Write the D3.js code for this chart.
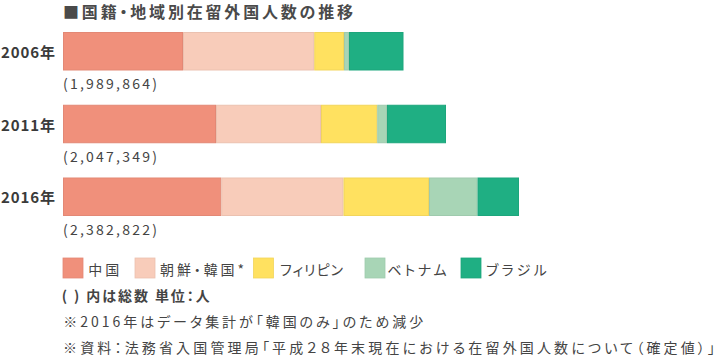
<!DOCTYPE html>
<html><head><meta charset="utf-8">
<script src="https://cdn.jsdelivr.net/npm/d3@7"></script>
<style>
html,body{margin:0;padding:0;background:#fff;}
svg{display:block;font-family:"Noto Sans CJK JP","Noto Sans",sans-serif;font-feature-settings:"palt" 1;}
</style></head>
<body><svg id="c" width="720" height="359"></svg>
<script>
const years = ["2006年", "2011年", "2016年"];
const totals = ["(1,989,864)", "(2,047,349)", "(2,382,822)"];
const series = ["中国", "朝鮮・韓国*", "フィリピン", "ベトナム", "ブラジル"];
const china     = [480000, 612000, 633000];
const korea     = [525000, 420000, 489000];
const philippines = [119000, 225000, 342000];
const vietnam   = [20000, 39000, 194000];
const brazil    = [218000, 236000, 166000];
const colors = ["#F0907B", "#F8CCBA", "#FFE160", "#A8D5B6", "#1FAF83"];
const title = "■国籍・地域別在留外国人数の推移";
const notes = ["( ) 内は総数 単位：人", "※2016年はデータ集計が「韓国のみ」のため減少", "※資料：法務省入国管理局「平成２８年末現在における在留外国人数について（確定値）」"];

const rows = years.map((y, i) => ({year: y, "中国": china[i], "朝鮮・韓国*": korea[i], "フィリピン": philippines[i], "ベトナム": vietnam[i], "ブラジル": brazil[i]}));
const stacked = d3.stack().keys(series)(rows);
const maxTotal = d3.max(rows, r => d3.sum(series, k => r[k]));

const svg = d3.select("#c");
const x = d3.scaleLinear().domain([0, maxTotal]).range([63, 519]);
const y = d3.scaleBand().domain(years).range([32, 216]).paddingInner(0.4708).paddingOuter(0);
const color = d3.scaleOrdinal().domain(series).range(colors);

svg.append("text").attr("x", 63).attr("y", 11).attr("dominant-baseline", "central")
  .attr("font-size", 16).attr("font-weight", 700).attr("fill", "#4a4a4a")
  .attr("textLength", 290).attr("lengthAdjust", "spacing").text(title);

const g = svg.append("g");
stacked.forEach(s => {
  g.selectAll(null).data(s).enter().append("rect")
    .attr("x", d => x(d[0]) + 0.5)
    .attr("y", d => y(d.data.year) + 0.5)
    .attr("width", d => Math.max(0, x(d[1]) - x(d[0]) - 1))
    .attr("height", y.bandwidth() - 1)
    .attr("fill", color(s.key))
    .attr("stroke", d3.color(color(s.key)).darker(0.15))
    .attr("stroke-width", 1);
});

svg.selectAll(".yl").data(years).enter().append("text")
  .attr("x", 1).attr("y", d => y(d) + y.bandwidth() / 2)
  .attr("dominant-baseline", "central")
  .attr("font-size", 15).attr("font-weight", 700).attr("fill", "#3a3a3a")
  .attr("textLength", 54).attr("lengthAdjust", "spacing")
  .text(d => d);

svg.selectAll(".tl").data(totals).enter().append("text")
  .attr("x", 63).attr("y", (d, i) => y(years[i]) + y.bandwidth() + 13)
  .attr("dominant-baseline", "central")
  .attr("font-size", 14).attr("fill", "#444")
  .attr("textLength", 94).attr("lengthAdjust", "spacing")
  .text(d => d);

const legendX = [63, 135, 253.5, 365, 461];
const legendTX = [88.3, 160, 280, 387.3, 486];
const legendW = [31, 84, 63, 59.4, 60.7];
const lg = svg.selectAll(".lg").data(series).enter().append("g")
  .attr("transform", (d, i) => `translate(${legendX[i]},258)`);
lg.append("rect").attr("width", 20).attr("height", 20).attr("fill", d => color(d))
  .attr("stroke", d => d3.color(color(d)).darker(0.15)).attr("stroke-width", 0.8);
lg.append("text").attr("x", (d, i) => legendTX[i] - legendX[i]).attr("y", 10.5)
  .attr("dominant-baseline", "central").attr("font-size", 14).attr("fill", "#444")
  .attr("textLength", (d, i) => legendW[i]).attr("lengthAdjust", "spacing")
  .text(d => d);

const noteX = [61.7, 63.3, 63];
const noteW = [148, 360, 652];
svg.selectAll(".nt").data(notes).enter().append("text")
  .attr("x", (d, i) => noteX[i]).attr("y", (d, i) => 295 + i * 25.8)
  .attr("dominant-baseline", "central").attr("font-size", 14)
  .attr("fill", "#444")
  .attr("font-weight", (d, i) => i === 0 ? 700 : 400)
  .attr("textLength", (d, i) => noteW[i]).attr("lengthAdjust", "spacing")
  .text(d => d);
</script>
</body></html>
